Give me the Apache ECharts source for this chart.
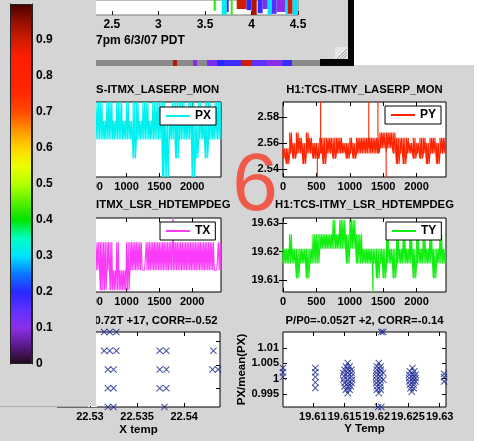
<!DOCTYPE html>
<html>
<head>
<meta charset="utf-8">
<script src="https://cdn.jsdelivr.net/npm/echarts@6/dist/echarts.min.js"></script>
<style>
  html, body { margin: 0; padding: 0; background: #d5d5d5; }
  #c { width: 477px; height: 441px; }
</style>
</head>
<body>
<div id="c"></div>
<script>
// ---------- colour map (bottom to top, evenly spaced) ----------
const cmap = ['#200818', '#5a1a8a', '#8c2ee8', '#5f30ff', '#2828ff', '#0a78ff', '#00e4ff',
  '#00ffc0', '#00e400', '#5af000', '#b4ff00', '#ecff00', '#ffd400', '#ff9400', '#ff4a00',
  '#ff2a00', '#ff2200', '#ff1e00', '#d01c00', '#961000', '#4a0000'];
const cbTicks = [0, 0.1, 0.2, 0.3, 0.4, 0.5, 0.6, 0.7, 0.8, 0.9];

// ---------- spectrogram columns (hours) ----------
const hourTicks = [2.5, 3, 3.5, 4, 4.5];
const specStartH = [3.594, 3.680, 3.734, 3.777, 3.841, 3.948, 4.002, 4.066, 4.120, 4.174, 4.217, 4.270, 4.367, 4.388, 4.442];
const specEndH   = [3.616, 3.734, 3.755, 3.798, 3.948, 4.002, 4.056, 4.120, 4.174, 4.217, 4.270, 4.367, 4.388, 4.442, 4.496];
const specFloor  = [7, 0, 5, 0, 10, 8, 0, 3, 10, 0, 2, 5, 0, 2, 0];
const specLevel  = [0.42, 0.32, 0.18, 0.43, 0.90, 0.20, 0.93, 0.18, 0.12, 0.30, 0.16, 0.10, 0.30, 0.90, 0.30];
const stripStartH = [3.154, 3.369, 3.520, 3.627, 3.702, 3.895, 4.003, 4.164, 4.325];
const stripEndH   = [3.197, 3.412, 3.627, 3.702, 3.895, 4.003, 4.164, 4.325, 4.432];
const stripLevel  = [0.92, 0.10, 0.12, 0.20, 0.18, 0.90, 0.15, 0.10, 0.18];

// ---------- time series (50-sample bins: low / high quantisation level per bin) ----------
const sampleTicks = [0, 500, 1000, 1500, 2000];
const binStep = 50;

const pxLevels = [2.40, 2.42, 2.44, 2.46, 2.48];
const pxStart = 500;
const pxLo = [2,2,2,2,2,2,2,2,2,2,2,2,1,2,2,2,2,2,2,2,2,0,0,2,2,1,2,2,2,2,0,1,2,2,1,2,2,2,2];
const pxHi = [4,4,4,3,4,4,3,4,4,3,4,3,4,4,3,4,4,3,4,4,4,4,3,3,4,4,4,4,3,4,4,3,4,3,4,4,3,4,4];
const pxTicks = [2.40, 2.42, 2.44, 2.46, 2.48];

const pyLevels = [2.544, 2.548, 2.552, 2.556, 2.560, 2.564, 2.568];
const pyStart = 0;
const pyLo = [1,0,2,1,2,2,0,2,2,1,1,2,0,2,2,1,2,2,2,1,2,1,2,2,2,2,2,2,2,3,3,3,3,2,0,2,0,2,2,1,2,1,2,0,2,2,0,2,2];
const pyHi = [3,3,6,4,6,5,4,6,5,4,4,5,5,5,5,5,5,5,4,4,5,4,5,5,5,5,5,5,5,6,6,6,6,6,5,5,5,5,4,5,4,5,5,4,5,5,4,5,5];
const pySpikeT = [514, 563, 1284, 1421, 1544];
const pySpikeFrom = [2.552, 2.556, 2.556, 2.556, 2.552];
const pySpikeTo = [2.528, 2.600, 2.600, 2.600, 2.528];
const pyTicks = [2.54, 2.56, 2.58];

const txLevels = [22.5332, 22.5355, 22.5387];
const txStart = 500;
const txLo = [1,1,0,0,1,0,0,0,0,0,0,1,1,1,1,1,1,1,1,1,1,1,1,1,1,1,1,1,1,1,1,1,1,1,1,1,1,1,1];
const txHi = [2,2,2,2,2,2,1,2,1,1,2,2,2,2,2,1,2,2,2,2,2,2,2,2,2,2,2,2,2,2,2,2,2,2,2,2,2,1,2];
const txSpikeT = [1712];
const txSpikeFrom = [22.5387];
const txSpikeTo = [22.5425];
const txTicks = [22.535, 22.54];

const tyLevels = [19.6053, 19.6106, 19.6158, 19.6210, 19.6261, 19.6312];
const tyStart = 0;
const tyLo = [2,2,2,2,1,2,2,1,2,2,2,3,3,3,3,3,3,3,3,2,3,3,2,2,2,2,2,2,1,2,1,2,2,1,2,2,2,2,2,1,2,2,2,2,2,1,2,2,2];
const tyHi = [3,3,4,3,3,3,3,3,3,4,4,4,4,4,4,5,4,5,5,4,5,5,4,4,3,3,3,3,3,3,3,4,3,3,4,3,4,3,4,3,4,3,4,3,4,3,3,4,3];
const tySpikeT = [1348];
const tySpikeFrom = [19.6158];
const tySpikeTo = [19.6040];
const tyTicks = [19.61, 19.62, 19.63];

// ---------- correlation scatter plots ----------
const xTemp  = [22.5315, 22.5321, 22.5328,
                22.5315, 22.5321, 22.5328, 22.5374, 22.5381, 22.5431,
                22.5319, 22.5325, 22.5374, 22.5381, 22.5430, 22.5436,
                22.5319, 22.5325, 22.5374, 22.5381,
                22.5319, 22.5325, 22.5379];
const xRatio = [1.014, 1.014, 1.014,
                1.006, 1.006, 1.006, 1.006, 1.006, 1.006,
                0.998, 0.998, 0.998, 0.998, 0.998, 0.998,
                0.990, 0.990, 0.990, 0.990,
                0.982, 0.982, 0.982];
const xTempTicks = [22.53, 22.535, 22.54];
const xRatioTicks = [0.99, 1.0, 1.01];

const yTemp = [
  19.6053, 19.6053, 19.6053,
  19.6104, 19.6104, 19.6104, 19.6104, 19.6104,
  19.6155, 19.6152, 19.6158, 19.6150, 19.6156, 19.6161, 19.6148, 19.6155, 19.6161, 19.6149, 19.6155, 19.6161,
  19.6148, 19.6155, 19.6162, 19.6150, 19.6156, 19.6161, 19.6150, 19.6156, 19.6160, 19.6152, 19.6158, 19.6155,
  19.6208, 19.6211, 19.6204, 19.6201, 19.6207, 19.6201, 19.6207, 19.6200, 19.6206, 19.6211, 19.6200, 19.6206,
  19.6200, 19.6206, 19.6211, 19.6200, 19.6206, 19.6201, 19.6207, 19.6201, 19.6207, 19.6204, 19.6203, 19.6208,
  19.6257, 19.6253, 19.6260, 19.6252, 19.6258, 19.6262, 19.6252, 19.6258, 19.6262, 19.6252, 19.6258, 19.6262,
  19.6253, 19.6259, 19.6254, 19.6259, 19.6256,
  19.6307, 19.6307, 19.6307];
const yRatio = [
  1.0035, 1.0021, 1.0006,
  1.0035, 1.0021, 1.0006, 0.9988, 0.9970,
  1.0051, 1.0040, 1.0040, 1.0029, 1.0029, 1.0029, 1.0019, 1.0019, 1.0019, 1.0008, 1.0008, 1.0008,
  0.9997, 0.9997, 0.9997, 0.9986, 0.9986, 0.9986, 0.9975, 0.9975, 0.9975, 0.9964, 0.9964, 0.9953,
  1.0152, 1.0152, 1.0051, 1.0040, 1.0040, 1.0029, 1.0029, 1.0019, 1.0019, 1.0019, 1.0008, 1.0008,
  0.9997, 0.9997, 0.9997, 0.9986, 0.9986, 0.9975, 0.9975, 0.9964, 0.9964, 0.9953, 0.9908, 0.9908,
  1.0035, 1.0024, 1.0024, 1.0013, 1.0013, 1.0013, 1.0002, 1.0002, 1.0002, 0.9991, 0.9991, 0.9991,
  0.9980, 0.9980, 0.9969, 0.9969, 0.9958,
  1.0016, 1.0006, 0.9991];
const yTempTicks = [19.61, 19.615, 19.62, 19.625, 19.63];
const yRatioTicks = [0.995, 1, 1.005, 1.01];

// ---------- styling ----------
const FONT = "'Liberation Sans', Arial, Helvetica, sans-serif";
const GRAY = '#d5d5d5';
const SPEC_TOP = 25;

function fmt(v) { return String(Number(v.toFixed(4))); }
function pairs(a, b) { return a.map((v, i) => [v, b[i]]); }

// dense quantised trace: vertical strokes between the bin's low and high level
function trace(start, lo, hi, levels, spT, spFrom, spTo) {
  const pts = [];
  lo.forEach((l, i) => {
    const t0 = start + binStep * i, a = levels[l], b = levels[hi[i]];
    for (let k = 0; k < 4; k++) {
      const t = t0 + k * binStep / 4;
      if (k % 2 === 0) pts.push([t, a], [t, b]); else pts.push([t, b], [t, a]);
    }
  });
  (spT || []).forEach((t, j) => {
    let idx = pts.findIndex(p => p[0] > t);
    if (idx < 0) idx = pts.length;
    pts.splice(idx, 0, [t, spFrom[j]], [t, spTo[j]], [t, spFrom[j]]);
  });
  return pts;
}

const grids = [], xAxes = [], yAxes = [], series = [], legends = [];
const tickLabel = { color: '#000', fontFamily: FONT, fontWeight: 'bold', fontSize: 11 };

function valAxis(gi, pos, min, max, ticks, showLabels, extra) {
  const ax = {
    gridIndex: gi, type: 'value', position: pos, min: min, max: max,
    axisLine: { show: false }, splitLine: { show: false },
    axisTick: { inside: true, length: 4, lineStyle: { color: '#000' }, customValues: ticks },
    axisLabel: showLabels
      ? Object.assign({ customValues: ticks, formatter: fmt, margin: 4, hideOverlap: false,
          showMinLabel: true, showMaxLabel: true }, tickLabel)
      : { show: false }
  };
  return Object.assign(ax, extra || {});
}

// MATLAB-style boxed axes; returns [xAxisIndex, yAxisIndex]
function panel(box, xr, xt, yr, yt, opts) {
  opts = opts || {};
  const gi = grids.length;
  grids.push({ left: box[0], top: box[1], width: box[2], height: box[3], show: true,
    backgroundColor: '#fff', borderColor: '#000', borderWidth: 1 });
  const xi = xAxes.length, yi = yAxes.length;
  xAxes.push(valAxis(gi, 'bottom', xr[0], xr[1], xt, true, opts.xName ? {
    name: opts.xName, nameLocation: 'middle', nameGap: opts.xGap,
    nameTextStyle: Object.assign({}, tickLabel, { fontSize: 11.5 }) } : null));
  xAxes.push(valAxis(gi, 'top', xr[0], xr[1], xt, false));
  yAxes.push(valAxis(gi, 'left', yr[0], yr[1], yt, true, opts.yName ? {
    name: opts.yName, nameLocation: 'middle', nameGap: opts.yGap, nameRotate: 90,
    nameTextStyle: Object.assign({}, tickLabel, { fontSize: 11.5 }) } : null));
  yAxes.push(valAxis(gi, 'right', yr[0], yr[1], yt, false));
  return [xi, yi];
}

function addLegend(name, left, top) {
  legends.push({ data: [name], left: left, top: top, orient: 'horizontal', icon: 'rect',
    itemWidth: 24, itemHeight: 2, padding: [3, 5, 3, 6], backgroundColor: '#fff',
    borderColor: '#000', borderWidth: 1, borderRadius: 0, selectedMode: false,
    textStyle: { color: '#000', fontFamily: FONT, fontWeight: 'bold', fontSize: 12 } });
}

// ---- colour bar ----
grids.push({ left: 10, top: 4, width: 22, height: 360 });
xAxes.push({ gridIndex: 0, type: 'category', data: ['c'], show: false });
yAxes.push({ gridIndex: 0, type: 'value', position: 'right', min: 0, max: 1, z: 20,
  axisLine: { show: true, lineStyle: { color: '#222' } }, splitLine: { show: false },
  axisTick: { inside: false, length: 3, lineStyle: { color: '#222' }, customValues: cbTicks },
  axisLabel: { customValues: cbTicks, margin: 4, color: '#000', fontFamily: FONT, fontWeight: 'bold',
    fontSize: 12, formatter: v => (v === 0 ? '0' : v.toFixed(1)) } });
yAxes.push({ gridIndex: 0, type: 'value', position: 'left', min: 0, max: 1, z: 20,
  axisLine: { show: true, lineStyle: { color: '#222' } }, splitLine: { show: false },
  axisTick: { inside: true, length: 3, lineStyle: { color: '#222' }, customValues: cbTicks },
  axisLabel: { show: false } });
series.push({ type: 'bar', xAxisIndex: 0, yAxisIndex: 0, barWidth: '100%', z: 20, silent: true,
  data: [1],
  itemStyle: { borderColor: '#222', borderWidth: 1,
    color: new echarts.graphic.LinearGradient(0, 1, 0, 0,
      cmap.map((c, i) => ({ offset: i / (cmap.length - 1), color: c }))) } });

// ---- spectrogram window (top) ----
function columnItem(params, api) {
  const p0 = api.coord([api.value(0), SPEC_TOP]);
  const p1 = api.coord([api.value(1), api.value(2)]);
  return { type: 'rect', shape: { x: p0[0], y: p0[1], width: p1[0] - p0[0], height: p1[1] - p0[1] },
    style: { fill: api.visual('color') } };
}
grids.push({ left: 80, top: -10, width: 218, height: 25, show: true, backgroundColor: '#fff',
  borderColor: '#777', borderWidth: 1 });
xAxes.push({ gridIndex: 1, type: 'value', min: 2.1567, max: 4.5, position: 'bottom',
  axisLine: { show: false }, splitLine: { show: false },
  axisTick: { inside: true, length: 4, lineStyle: { color: '#222' }, customValues: hourTicks },
  axisLabel: { customValues: hourTicks, formatter: fmt, margin: 4, color: '#000', hideOverlap: false,
    showMaxLabel: true, fontFamily: FONT, fontWeight: 'bold', fontSize: 12 } });
yAxes.push({ gridIndex: 1, type: 'value', min: 0, max: SPEC_TOP, show: false });
const specIdx = series.length;
series.push({ type: 'custom', xAxisIndex: 1, yAxisIndex: 2, renderItem: columnItem,
  encode: { x: [0, 1], y: 2 },
  data: specStartH.map((h, i) => [h, specEndH[i], specFloor[i], specLevel[i]]) });

grids.push({ left: 96, top: 60, width: 224, height: 6, show: true, backgroundColor: '#8a8a8a', borderWidth: 0 });
xAxes.push({ gridIndex: 2, type: 'value', min: 2.328, max: 4.732, show: false });
yAxes.push({ gridIndex: 2, type: 'value', min: 0, max: SPEC_TOP, show: false });
const stripIdx = series.length;
series.push({ type: 'custom', xAxisIndex: 2, yAxisIndex: 3, renderItem: columnItem,
  encode: { x: [0, 1], y: 2 },
  data: stripStartH.map((h, i) => [h, stripEndH[i], 0, stripLevel[i]]) });

// ---- time series panels ----
let ax;
ax = panel([61, 102, 160, 75], [0, 2440], sampleTicks, [2.40, 2.48], pxTicks);
series.push({ name: 'PX', type: 'line', xAxisIndex: ax[0], yAxisIndex: ax[1], showSymbol: false,
  color: '#00f0f0', lineStyle: { width: 1.1 }, data: trace(pxStart, pxLo, pxHi, pxLevels) });
addLegend('PX', 160, 107);

ax = panel([283, 102, 163, 75], [0, 2440], sampleTicks, [2.534, 2.5913], pyTicks);
series.push({ name: 'PY', type: 'line', xAxisIndex: ax[0], yAxisIndex: ax[1], showSymbol: false,
  color: '#ff2400', lineStyle: { width: 1.1 },
  data: trace(pyStart, pyLo, pyHi, pyLevels, pySpikeT, pySpikeFrom, pySpikeTo) });
addLegend('PY', 385, 106);

ax = panel([61, 218, 160, 74], [0, 2440], sampleTicks, [22.533, 22.5415], txTicks);
series.push({ name: 'TX', type: 'line', xAxisIndex: ax[0], yAxisIndex: ax[1], showSymbol: false,
  color: '#fa3cfa', lineStyle: { width: 1.1 },
  data: trace(txStart, txLo, txHi, txLevels, txSpikeT, txSpikeFrom, txSpikeTo) });
addLegend('TX', 160, 222);

ax = panel([283, 218, 163, 74], [0, 2440], sampleTicks, [19.6058, 19.6318], tyTicks);
series.push({ name: 'TY', type: 'line', xAxisIndex: ax[0], yAxisIndex: ax[1], showSymbol: false,
  color: '#12ee12', lineStyle: { width: 1.1 },
  data: trace(tyStart, tyLo, tyHi, tyLevels, tySpikeT, tySpikeFrom, tySpikeTo) });
addLegend('TY', 386, 222);

// ---- scatter panels ----
const CROSS = 'path://M0,1L1,0L5,4L9,0L10,1L6,5L10,9L9,10L5,6L1,10L0,9L4,5Z';
ax = panel([57, 332, 163, 75], [22.5265, 22.5438], xTempTicks, [0.982, 1.014], xRatioTicks,
  { xName: 'X temp', xGap: 17 });
series.push({ type: 'scatter', xAxisIndex: ax[0], yAxisIndex: ax[1], symbol: CROSS, symbolSize: 7,
  itemStyle: { color: '#16248e' }, data: pairs(xTemp, xRatio) });

ax = panel([283, 332, 163, 75], [19.6053, 19.631], yTempTicks, [0.9908, 1.0152], yRatioTicks,
  { xName: 'Y Temp', xGap: 15, yName: 'PX/mean(PX)', yGap: 35 });
series.push({ type: 'scatter', xAxisIndex: ax[0], yAxisIndex: ax[1], symbol: CROSS, symbolSize: 7,
  itemStyle: { color: '#16248e' }, data: pairs(yTemp, yRatio) });

// ---- decorations: titles, window frames, grips ----
const titleStyle = (txt, x, y) => ({ type: 'text', x: x, y: y, z: 5,
  style: { text: txt, fill: '#000', font: 'bold 11.3px ' + FONT, align: 'center', verticalAlign: 'middle' } });

function grip(x, y, s, bg) {
  return { type: 'group', x: x, y: y, z: 12, children: [
    { type: 'rect', shape: { x: 0, y: 0, width: s, height: s }, style: { fill: bg } },
    { type: 'line', shape: { x1: s - 1, y1: 2, x2: 2, y2: s - 1 }, style: { stroke: '#9a9a9a', lineWidth: 1 } },
    { type: 'line', shape: { x1: s - 1, y1: 5, x2: 5, y2: s - 1 }, style: { stroke: '#9a9a9a', lineWidth: 1 } },
    { type: 'line', shape: { x1: s - 1, y1: 8, x2: 8, y2: s - 1 }, style: { stroke: '#9a9a9a', lineWidth: 1 } }
  ] };
}

const graphics = [
  { type: 'rect', z: 1, shape: { x: 354, y: 0, width: 123, height: 65 }, style: { fill: '#fff' } },
  { type: 'rect', z: 1, shape: { x: 348, y: 0, width: 6, height: 66 }, style: { fill: '#050505' } },
  { type: 'rect', z: 1, shape: { x: 320, y: 59, width: 34, height: 7 }, style: { fill: '#050505' } },
  { type: 'rect', z: 1, shape: { x: 474, y: 65, width: 3, height: 376 }, style: { fill: '#fff' } },
  { type: 'text', x: 96, y: 41, z: 5, style: { text: '7pm 6/3/07 PDT', fill: '#000',
      font: 'bold 12px ' + FONT, align: 'left', verticalAlign: 'middle' } },
  titleStyle('H1:TCS-ITMX_LASERP_MON', 141, 90),
  titleStyle('H1:TCS-ITMY_LASERP_MON', 364.5, 90),
  titleStyle('H1:TCS-ITMX_LSR_HDTEMPDEG', 141, 205),
  titleStyle('H1:TCS-ITMY_LSR_HDTEMPDEG', 364.5, 205),
  titleStyle('P/P0=-0.72T +17, CORR=-0.52', 138.5, 321),
  titleStyle('P/P0=-0.052T +2, CORR=-0.14', 364.5, 321),
  // colour bar window in front of the others
  { type: 'rect', z: 10, shape: { x: 0, y: 0, width: 96, height: 406 }, style: { fill: GRAY } },
  { type: 'line', z: 10, shape: { x1: 0, y1: 406.5, x2: 88, y2: 406.5 }, style: { stroke: '#ababab', lineWidth: 1 } },
  grip(87, 397, 10, '#ffffff'),
  grip(335, 47, 13, '#e6e6e6'),
  { type: 'text', x: 255, y: 187, z: 50, style: { text: '6', fill: '#f05a4a',
      font: '82px ' + FONT, align: 'center', verticalAlign: 'middle' } }
];

const chart = echarts.init(document.getElementById('c'), null, { renderer: 'canvas' });
chart.setOption({
  animation: false,
  backgroundColor: GRAY,
  grid: grids,
  xAxis: xAxes,
  yAxis: yAxes,
  legend: legends,
  visualMap: [{ type: 'continuous', show: false, seriesIndex: [specIdx, stripIdx], dimension: 3,
    min: 0, max: 1, inRange: { color: cmap } }],
  series: series,
  graphic: graphics
});
</script>
</body>
</html>
